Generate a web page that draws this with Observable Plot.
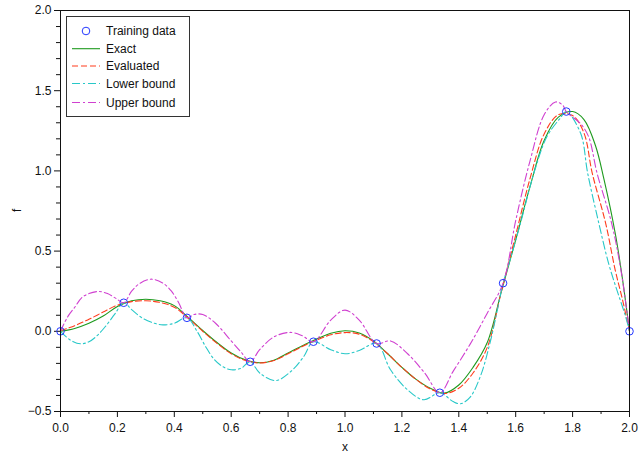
<!DOCTYPE html>
<html>
<head>
<meta charset="utf-8">
<script src="https://cdn.jsdelivr.net/npm/d3@7"></script>
<script src="https://cdn.jsdelivr.net/npm/@observablehq/plot@0.6"></script>
<style>
  html, body { margin: 0; padding: 0; background: #fff; }
  #wrap { position: relative; width: 639px; height: 457px; }
  #legend { position: absolute; left: 0; top: 0; pointer-events: none; }
</style>
</head>
<body>
<div id="wrap"></div>
<script>
// ---- data ----
const trainX = [0, 0.2222, 0.4444, 0.6667, 0.8889, 1.1111, 1.3333, 1.5556, 1.7778, 2.0];
const trainY = [0, 0.178, 0.084, -0.19, -0.065, -0.076, -0.383, 0.30, 1.37, 0];

const exactX = [0,0.05,0.1,0.15,0.2,0.25,0.3,0.35,0.4,0.45,0.5,0.55,0.6,0.65,0.7,0.75,0.8,0.85,0.9,0.95,1.0,1.05,1.1,1.15,1.2,1.25,1.3,1.35,1.4,1.45,1.5,1.55,1.6,1.65,1.7,1.75,1.8,1.84,1.88,1.91,1.951,1.975,2.0];
const exactY = [0,0.018,0.05,0.095,0.155,0.19,0.20,0.19,0.16,0.085,0.005,-0.07,-0.135,-0.178,-0.196,-0.18,-0.135,-0.09,-0.048,-0.012,0.003,-0.01,-0.06,-0.14,-0.225,-0.30,-0.355,-0.385,-0.335,-0.225,-0.07,0.25,0.57,0.9,1.19,1.335,1.37,1.32,1.16,0.95,0.6,0.33,0];

const evalX = [0,0.05,0.1,0.15,0.2,0.25,0.3,0.35,0.4,0.45,0.5,0.55,0.6,0.65,0.7,0.75,0.8,0.85,0.9,0.95,1.0,1.05,1.1,1.15,1.2,1.25,1.3,1.35,1.4,1.45,1.5,1.55,1.6,1.65,1.7,1.75,1.8,1.84,1.869,1.916,1.95,1.975,2.0];
const evalY = [0.005,0.035,0.075,0.12,0.163,0.185,0.19,0.18,0.15,0.08,0.0,-0.075,-0.14,-0.182,-0.197,-0.182,-0.14,-0.095,-0.055,-0.022,-0.008,-0.018,-0.065,-0.14,-0.225,-0.30,-0.36,-0.388,-0.355,-0.26,-0.10,0.25,0.6,0.95,1.23,1.35,1.345,1.236,0.986,0.675,0.38,0.2,0];

const lowerX = [0,0.035,0.07,0.1,0.13,0.16,0.19,0.2222,0.25,0.29,0.33,0.36,0.4,0.4444,0.48,0.51,0.54,0.57,0.6,0.635,0.6667,0.7,0.756,0.81,0.855,0.8889,0.95,1.0,1.05,1.1111,1.16,1.22,1.277,1.3333,1.38,1.406,1.44,1.476,1.51,1.54,1.5556,1.576,1.617,1.664,1.71,1.757,1.7778,1.828,1.853,1.892,1.927,1.957,1.985,2.0];
const lowerY = [0,-0.055,-0.078,-0.065,-0.025,0.035,0.105,0.178,0.135,0.08,0.05,0.04,0.05,0.084,0.0,-0.095,-0.175,-0.22,-0.24,-0.23,-0.19,-0.26,-0.307,-0.25,-0.157,-0.065,-0.115,-0.14,-0.12,-0.076,-0.24,-0.365,-0.427,-0.383,-0.438,-0.452,-0.41,-0.28,-0.07,0.17,0.30,0.42,0.675,0.986,1.214,1.33,1.37,1.236,0.986,0.675,0.42,0.25,0.1,0];

const upperX = [0,0.025,0.05,0.075,0.1,0.135,0.165,0.195,0.2222,0.25,0.28,0.32,0.36,0.39,0.415,0.4444,0.47,0.5,0.545,0.6,0.635,0.6667,0.7,0.75,0.808,0.85,0.8889,0.95,1.0,1.05,1.1111,1.16,1.22,1.28,1.3333,1.38,1.44,1.5,1.5556,1.6,1.65,1.7,1.74,1.765,1.7778,1.83,1.857,1.886,1.937,1.97,2.0];
const upperY = [0,0.09,0.15,0.21,0.235,0.248,0.235,0.205,0.178,0.25,0.30,0.325,0.3,0.25,0.18,0.084,0.105,0.105,0.05,-0.06,-0.13,-0.19,-0.115,-0.035,-0.007,-0.028,-0.065,0.07,0.132,0.07,-0.076,-0.06,-0.14,-0.26,-0.383,-0.25,-0.08,0.113,0.30,0.69,1.06,1.35,1.43,1.41,1.37,1.29,1.21,0.986,0.675,0.38,0];

const xMajor = [0,0.2,0.4,0.6,0.8,1.0,1.2,1.4,1.6,1.8,2.0];
const xMinor = [0.1,0.3,0.5,0.7,0.9,1.1,1.3,1.5,1.7,1.9];
const yMajor = [-0.5,0,0.5,1.0,1.5,2.0];
const yMinor = [-0.4,-0.3,-0.2,-0.1,0.1,0.2,0.3,0.4,0.6,0.7,0.8,0.9,1.1,1.2,1.3,1.4,1.6,1.7,1.8,1.9];

const legendLabels = ["Training data", "Exact", "Evaluated", "Lower bound", "Upper bound"];
const legendColors = ["#2438ff", "#1e9a1e", "#ff3c1c", "#28c8c8", "#d040d0"];
const legendDash = [null, null, "6,3", "8,3,2,3", "8,3,2,3"];

// ---- build ----
const pts = (xs, ys) => xs.map((x, i) => ({x, y: ys[i]}));
const fmt = d3.format(".1f");
const FONT = "'Liberation Sans', Arial, Helvetica, sans-serif";
const LW = 1.1;

const chart = Plot.plot({
  width: 639,
  height: 457,
  marginLeft: 60,
  marginRight: 10,
  marginTop: 10,
  marginBottom: 46,
  style: {fontFamily: FONT, fontSize: "12px", background: "white", color: "#111"},
  x: {domain: [0, 2]},
  y: {domain: [-0.5, 2]},
  marks: [
    Plot.axisX({ticks: xMinor, tickSize: 3, tickFormat: () => "", label: null, stroke: "#111"}),
    Plot.axisX({ticks: xMajor, tickSize: 6, tickPadding: 6, tickFormat: fmt, label: null, stroke: "#111"}),
    Plot.axisY({ticks: yMinor, tickSize: 4, tickFormat: () => "", label: null, stroke: "#111"}),
    Plot.axisY({ticks: yMajor, tickSize: 6, tickPadding: 3, tickFormat: fmt, label: null, stroke: "#111"}),
    Plot.line(pts(exactX, exactY), {x: "x", y: "y", stroke: legendColors[1], strokeWidth: LW, curve: "catmull-rom"}),
    Plot.line(pts(evalX, evalY), {x: "x", y: "y", stroke: legendColors[2], strokeWidth: LW, strokeDasharray: legendDash[2], curve: "catmull-rom"}),
    Plot.line(pts(lowerX, lowerY), {x: "x", y: "y", stroke: legendColors[3], strokeWidth: LW, strokeDasharray: legendDash[3], curve: "catmull-rom"}),
    Plot.line(pts(upperX, upperY), {x: "x", y: "y", stroke: legendColors[4], strokeWidth: LW, strokeDasharray: legendDash[4], curve: "catmull-rom"}),
    Plot.dot(pts(trainX, trainY), {x: "x", y: "y", r: 3.8, stroke: legendColors[0], strokeWidth: 1, fill: "none"}),
    Plot.frame({stroke: "#111", strokeWidth: 1}),
    Plot.text(["x"], {text: d => d, frameAnchor: "bottom", dy: 39, fontSize: 12}),
    Plot.text(["f"], {text: d => d, frameAnchor: "left", dx: -43, dy: 1, rotate: -90, fontSize: 12})
  ]
});

const wrap = document.getElementById("wrap");
wrap.appendChild(chart);

// legend overlay
const lg = d3.select(wrap).append("svg")
  .attr("id", "legend")
  .attr("width", 639).attr("height", 457)
  .style("font-family", FONT).style("font-size", "12px");
lg.append("rect").attr("x", 66.5).attr("y", 16.5).attr("width", 123).attr("height", 100)
  .attr("fill", "white").attr("stroke", "#333").attr("stroke-width", 1);
const rowsY = [31, 48.7, 66, 83.5, 102.5];
legendLabels.forEach((lab, i) => {
  const y = rowsY[i];
  if (i === 0) {
    lg.append("circle").attr("cx", 86).attr("cy", y).attr("r", 3.8)
      .attr("fill", "none").attr("stroke", legendColors[i]).attr("stroke-width", 1);
  } else {
    lg.append("line").attr("x1", 72).attr("x2", 100).attr("y1", y).attr("y2", y)
      .attr("stroke", legendColors[i]).attr("stroke-width", LW)
      .attr("stroke-dasharray", legendDash[i]);
  }
  lg.append("text").attr("x", 106).attr("y", y).attr("dy", "0.35em")
    .attr("fill", "#111").text(lab);
});
</script>
</body>
</html>
